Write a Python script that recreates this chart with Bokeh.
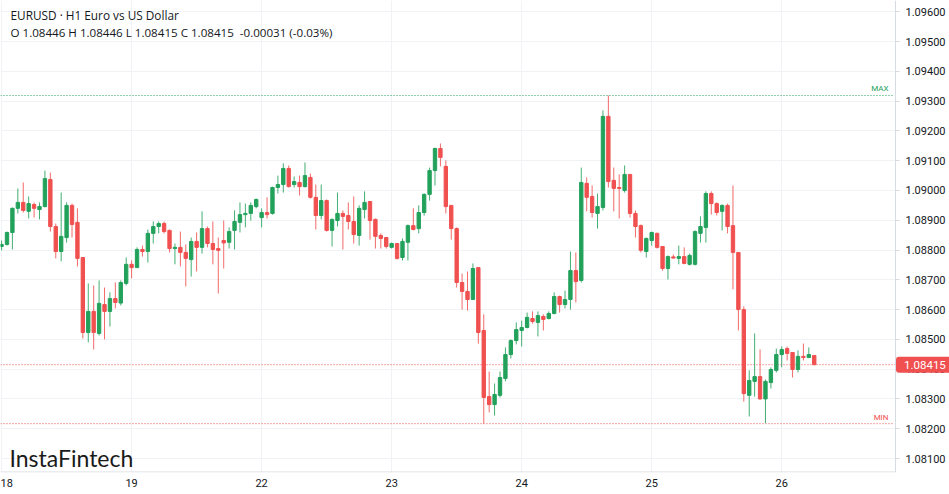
from bokeh.plotting import figure
from bokeh.models import Range1d, Label, FixedTicker, SingleIntervalTicker, NumeralTickFormatter, ColumnDataSource
from bokeh.embed import file_html
from bokeh.resources import INLINE

symbol_title = "EURUSD \u00b7 H1 Euro vs US Dollar"
brand = "InstaFintech"
day_labels = ["18", "19", "22", "23", "24", "25", "26"]
candles_per_day = 24

opens = [
    1.08812, 1.08819, 1.08859, 1.08940, 1.08960, 1.08930, 1.08953, 1.08936, 1.08946, 1.09037,
    1.08879, 1.08795, 1.08842, 1.08950, 1.08893, 1.08775, 1.08523, 1.08594, 1.08520, 1.08617,
    1.08594, 1.08637, 1.08622, 1.08688, 1.08752, 1.08741, 1.08802, 1.08795, 1.08856, 1.08879,
    1.08889, 1.08866, 1.08805, 1.08809, 1.08792, 1.08768, 1.08829, 1.08809, 1.08872, 1.08822,
    1.08805, 1.08832, 1.08826, 1.08866, 1.08893, 1.08919, 1.08923, 1.08946, 1.08909, 1.08926,
    1.08923, 1.09010, 1.09020, 1.09074, 1.09020, 1.09027, 1.09013, 1.09044, 1.08977, 1.08916,
    1.08966, 1.08866, 1.08899, 1.08923, 1.08916, 1.08896, 1.08849, 1.08936, 1.08963, 1.08903,
    1.08849, 1.08842, 1.08809, 1.08822, 1.08775, 1.08826, 1.08882, 1.08872, 1.08926, 1.08987,
    1.09067, 1.09141, 1.09081, 1.08950, 1.08872, 1.08691, 1.08661, 1.08634, 1.08741, 1.08530,
    1.08308, 1.08281, 1.08312, 1.08369, 1.08449, 1.08496, 1.08530, 1.08540, 1.08570, 1.08557,
    1.08577, 1.08570, 1.08587, 1.08644, 1.08617, 1.08634, 1.08731, 1.08698, 1.09024, 1.08980,
    1.08923, 1.08943, 1.09249, 1.09034, 1.09010, 1.09000, 1.09054, 1.08923, 1.08882, 1.08795,
    1.08832, 1.08856, 1.08812, 1.08738, 1.08777, 1.08772, 1.08778, 1.08752, 1.08752, 1.08856,
    1.08876, 1.08990, 1.08956, 1.08930, 1.08950, 1.08882, 1.08792, 1.08600, 1.08312, 1.08359,
    1.08375, 1.08300, 1.08355, 1.08396, 1.08449, 1.08469, 1.08456, 1.08399, 1.08443, 1.08439,
    1.08446,
]
highs = [
    1.08832, 1.08862, 1.08943, 1.09007, 1.09027, 1.08980, 1.08960, 1.08960, 1.09067, 1.09060,
    1.08889, 1.08993, 1.08960, 1.08956, 1.08940, 1.08776, 1.08688, 1.08681, 1.08698, 1.08674,
    1.08658, 1.08691, 1.08698, 1.08775, 1.08765, 1.08809, 1.08815, 1.08869, 1.08896, 1.08896,
    1.08896, 1.08869, 1.08822, 1.08862, 1.08819, 1.08842, 1.08859, 1.08930, 1.08879, 1.08896,
    1.08842, 1.08899, 1.08876, 1.08933, 1.08960, 1.08956, 1.08960, 1.08973, 1.08940, 1.08977,
    1.09013, 1.09050, 1.09091, 1.09084, 1.09047, 1.09050, 1.09094, 1.09057, 1.09020, 1.09020,
    1.08970, 1.08906, 1.08993, 1.08933, 1.08960, 1.08980, 1.08950, 1.08997, 1.08963, 1.08906,
    1.08856, 1.08842, 1.08825, 1.08822, 1.08839, 1.08886, 1.08940, 1.08950, 1.08990, 1.09077,
    1.09144, 1.09158, 1.09101, 1.08950, 1.08876, 1.08721, 1.08728, 1.08755, 1.08743, 1.08584,
    1.08392, 1.08352, 1.08392, 1.08473, 1.08500, 1.08557, 1.08563, 1.08590, 1.08594, 1.08594,
    1.08584, 1.08594, 1.08658, 1.08647, 1.08664, 1.08795, 1.08792, 1.09077, 1.09044, 1.09017,
    1.08990, 1.09269, 1.09319, 1.09077, 1.09054, 1.09084, 1.09054, 1.08933, 1.08886, 1.08842,
    1.08862, 1.08859, 1.08812, 1.08782, 1.08785, 1.08815, 1.08809, 1.08788, 1.08866, 1.08913,
    1.08997, 1.08997, 1.08960, 1.08953, 1.08956, 1.09017, 1.08792, 1.08611, 1.08396, 1.08520,
    1.08466, 1.08365, 1.08406, 1.08469, 1.08476, 1.08476, 1.08456, 1.08463, 1.08486, 1.08473,
    1.08446,
]
lows = [
    1.08799, 1.08815, 1.08802, 1.08923, 1.08926, 1.08906, 1.08909, 1.08903, 1.08943, 1.08862,
    1.08772, 1.08762, 1.08825, 1.08842, 1.08745, 1.08503, 1.08490, 1.08466, 1.08513, 1.08500,
    1.08543, 1.08604, 1.08614, 1.08681, 1.08705, 1.08740, 1.08778, 1.08758, 1.08822, 1.08856,
    1.08856, 1.08792, 1.08752, 1.08745, 1.08678, 1.08711, 1.08728, 1.08788, 1.08809, 1.08752,
    1.08654, 1.08738, 1.08805, 1.08802, 1.08859, 1.08876, 1.08899, 1.08940, 1.08876, 1.08906,
    1.08919, 1.08990, 1.08993, 1.09010, 1.09010, 1.08983, 1.09010, 1.08973, 1.08869, 1.08903,
    1.08862, 1.08812, 1.08879, 1.08802, 1.08869, 1.08822, 1.08815, 1.08906, 1.08835, 1.08805,
    1.08805, 1.08805, 1.08805, 1.08768, 1.08765, 1.08765, 1.08866, 1.08856, 1.08916, 1.08966,
    1.09017, 1.09081, 1.08923, 1.08835, 1.08674, 1.08600, 1.08597, 1.08633, 1.08486, 1.08217,
    1.08255, 1.08244, 1.08305, 1.08359, 1.08436, 1.08483, 1.08476, 1.08537, 1.08553, 1.08510,
    1.08530, 1.08567, 1.08584, 1.08590, 1.08604, 1.08600, 1.08624, 1.08691, 1.08930, 1.08909,
    1.08872, 1.08933, 1.09010, 1.08930, 1.08906, 1.08993, 1.08909, 1.08842, 1.08792, 1.08775,
    1.08815, 1.08805, 1.08731, 1.08701, 1.08772, 1.08752, 1.08752, 1.08748, 1.08748, 1.08825,
    1.08825, 1.08919, 1.08916, 1.08866, 1.08856, 1.08668, 1.08530, 1.08291, 1.08241, 1.08308,
    1.08298, 1.08219, 1.08335, 1.08389, 1.08406, 1.08429, 1.08372, 1.08389, 1.08429, 1.08439,
    1.08415,
]
closes = [
    1.08819, 1.08859, 1.08940, 1.08960, 1.08933, 1.08956, 1.08940, 1.08946, 1.09040, 1.08879,
    1.08795, 1.08846, 1.08950, 1.08886, 1.08772, 1.08523, 1.08594, 1.08523, 1.08621, 1.08594,
    1.08637, 1.08624, 1.08691, 1.08752, 1.08741, 1.08802, 1.08795, 1.08856, 1.08879, 1.08889,
    1.08862, 1.08805, 1.08809, 1.08792, 1.08772, 1.08829, 1.08809, 1.08872, 1.08822, 1.08802,
    1.08799, 1.08824, 1.08862, 1.08896, 1.08919, 1.08923, 1.08950, 1.08970, 1.08926, 1.08919,
    1.09010, 1.09020, 1.09074, 1.09013, 1.09030, 1.09013, 1.09050, 1.08977, 1.08916, 1.08966,
    1.08866, 1.08903, 1.08923, 1.08913, 1.08896, 1.08852, 1.08940, 1.08960, 1.08899, 1.08846,
    1.08839, 1.08812, 1.08822, 1.08772, 1.08829, 1.08882, 1.08869, 1.08926, 1.08987, 1.09067,
    1.09141, 1.09111, 1.08946, 1.08872, 1.08691, 1.08661, 1.08634, 1.08738, 1.08523, 1.08305,
    1.08281, 1.08315, 1.08372, 1.08449, 1.08496, 1.08533, 1.08540, 1.08574, 1.08560, 1.08580,
    1.08567, 1.08587, 1.08644, 1.08617, 1.08634, 1.08731, 1.08694, 1.09027, 1.08977, 1.08926,
    1.08946, 1.09249, 1.09030, 1.09007, 1.09007, 1.09054, 1.08923, 1.08879, 1.08799, 1.08839,
    1.08859, 1.08809, 1.08738, 1.08778, 1.08773, 1.08778, 1.08755, 1.08782, 1.08862, 1.08879,
    1.08990, 1.08956, 1.08926, 1.08950, 1.08879, 1.08792, 1.08600, 1.08318, 1.08362, 1.08375,
    1.08300, 1.08359, 1.08399, 1.08449, 1.08466, 1.08453, 1.08399, 1.08443, 1.08439, 1.08449,
    1.08415,
]

# ---- layout constants -----------------------------------------------------
W, H = 949, 494
AXIS_PX = 895          # x pixel of the price scale line
FRAME_H = 472
X0 = -0.2
PX_PER_BAR = 895 / 165.2
Y_LO, Y_HI = 1.08053, 1.09638
GREEN = "#22a15b"
RED = "#f0504f"
TXT = "#131722"
AXIS_GREY = "#d6dae3"


def px_x(px):
    return X0 + px / PX_PER_BAR


def px_y(py):
    return Y_HI - py * (Y_HI - Y_LO) / FRAME_H


X1 = px_x(W)

idx = list(range(len(opens)))
colors = [GREEN if c >= o else RED for o, c in zip(opens, closes)]
src = ColumnDataSource(dict(
    x=idx,
    high=highs,
    low=lows,
    top=[max(o, c) for o, c in zip(opens, closes)],
    bottom=[min(o, c) for o, c in zip(opens, closes)],
    color=colors,
))

p = figure(width=W, height=H, x_range=Range1d(X0, X1), y_range=Range1d(Y_LO, Y_HI),
           output_backend="svg", toolbar_location=None, y_axis_location="right",
           min_border_left=0, min_border_top=0, min_border_right=0,
           min_border_bottom=H - FRAME_H)
p.outline_line_color = None
p.background_fill_color = "white"
p.border_fill_color = "white"

# x axis (dates)
tick_pos = [i * candles_per_day for i in range(len(day_labels))]
p.xaxis.ticker = FixedTicker(ticks=tick_pos)
p.xaxis.major_label_overrides = {t: lab for t, lab in zip(tick_pos, day_labels)}
p.xaxis.major_tick_out = 0
p.xaxis.major_tick_in = 0
p.xaxis.minor_tick_line_color = None
p.xaxis.axis_line_color = None
p.xaxis.major_label_text_font = "Roboto"
p.xaxis.major_label_text_font_size = "11px"
p.xaxis.major_label_text_color = TXT
p.xaxis.major_label_standoff = 6

# price scale drawn at a fixed x inside the frame
p.yaxis.fixed_location = px_x(AXIS_PX)
p.yaxis.ticker = SingleIntervalTicker(interval=0.001, num_minor_ticks=0)
p.yaxis.formatter = NumeralTickFormatter(format="0.00000")
p.yaxis.major_tick_out = 4
p.yaxis.major_tick_in = 0
p.yaxis.major_tick_line_color = AXIS_GREY
p.yaxis.minor_tick_line_color = None
p.yaxis.axis_line_color = AXIS_GREY
p.yaxis.major_label_text_font = "Roboto"
p.yaxis.major_label_text_font_size = "11px"
p.yaxis.major_label_text_color = TXT
p.yaxis.major_label_standoff = 6

p.xgrid.grid_line_color = "#f0f2f5"
p.ygrid.grid_line_color = "#f0f2f5"

# white panel behind the price scale (hides grid lines there)
p.quad(left=[px_x(AXIS_PX)], right=[X1 + 5], bottom=[Y_LO - 0.01], top=[Y_HI + 0.01],
       fill_color="white", line_color=None)
# bottom border line of the chart area
p.segment(x0=[X0], x1=[px_x(AXIS_PX)], y0=[px_y(FRAME_H - 0.5)], y1=[px_y(FRAME_H - 0.5)],
          line_color=AXIS_GREY, line_width=1)

# max / min / last price lines
max_h = max(highs)
min_l = min(lows)
last = closes[-1]
p.segment(x0=[X0, X0], x1=[px_x(AXIS_PX - 3)] * 2, y0=[max_h, min_l], y1=[max_h, min_l],
          line_color=[GREEN, RED], line_dash="1 2", line_width=1)
p.segment(x0=[X0], x1=[px_x(AXIS_PX)], y0=[last], y1=[last],
          line_color=RED, line_dash="1 2", line_width=1)

# candles
p.segment(x0="x", y0="low", x1="x", y1="high", color="color", line_width=1, line_alpha=0.85, source=src)
p.vbar(x="x", top="top", bottom="bottom", width=0.62, fill_color="color", line_color="color",
       line_width=1, source=src)

# annotations
p.add_layout(Label(x=px_x(888), y=max_h, y_offset=2, text="MAX", text_align="right",
                   text_baseline="bottom", text_font="Roboto", text_font_size="8px",
                   text_color=GREEN))
p.add_layout(Label(x=px_x(888), y=min_l, y_offset=2, text="MIN", text_align="right",
                   text_baseline="bottom", text_font="Roboto", text_font_size="8px",
                   text_color=RED))
p.add_layout(Label(x=px_x(AXIS_PX + 0.5), y=last, text=f"{last:.5f}", text_align="left",
                   text_baseline="middle", text_font="Roboto", text_font_size="11.5px",
                   text_color="white", background_fill_color=RED, border_radius=3,
                   padding=dict(left=8, right=6, top=4, bottom=4)))

o, h, l, c = opens[-1], highs[-1], lows[-1], closes[-1]
chg = c - o
ohlc_text = f"O {o:.5f} H {h:.5f} L {l:.5f} C {c:.5f}\u00a0 {chg:.5f} ({chg / o * 100:.2f}%)"
p.add_layout(Label(x=px_x(10), y=px_y(14), text=symbol_title, text_baseline="middle",
                   text_font="Open Sans", text_font_size="11.8px", text_color=TXT))
p.add_layout(Label(x=px_x(10), y=px_y(32), text=ohlc_text, text_baseline="middle",
                   text_font="Open Sans", text_font_size="11.6px", text_color=TXT))
p.add_layout(Label(x=px_x(9), y=px_y(457), text=brand, text_baseline="middle",
                   text_font="Lato", text_font_size="23px", text_color="#1a1a1a"))

open("out.html", "w").write(file_html(p, INLINE))
